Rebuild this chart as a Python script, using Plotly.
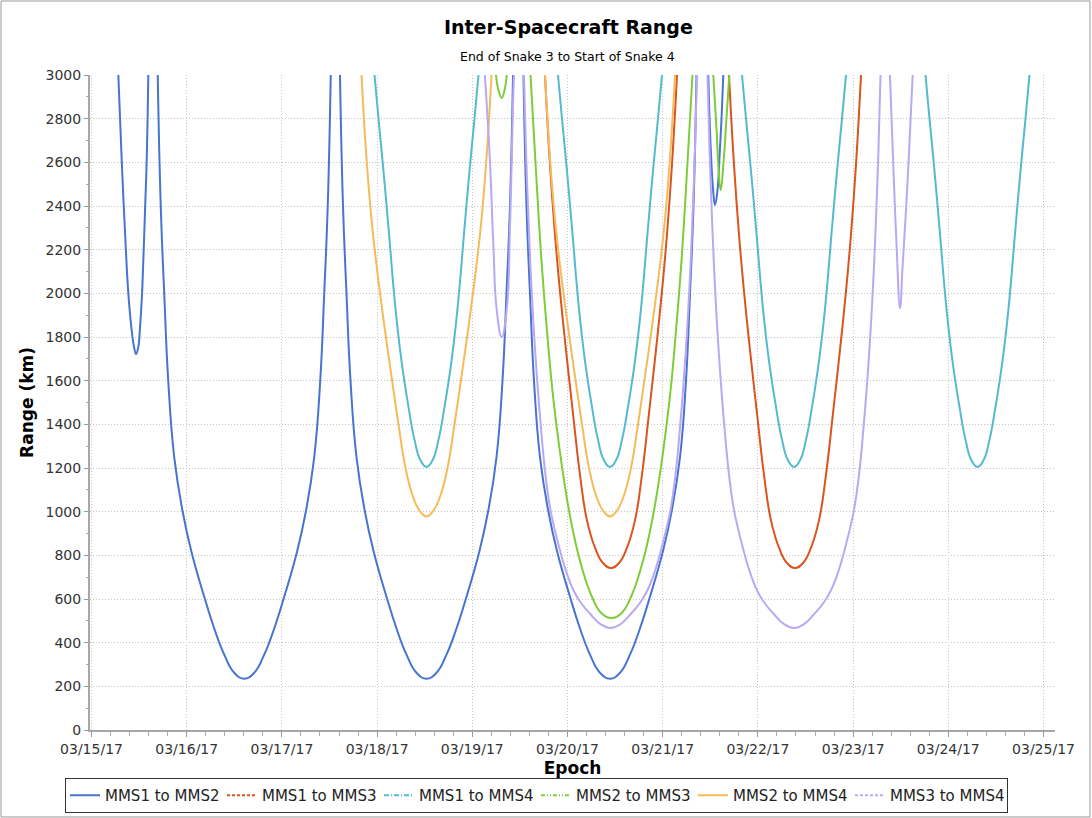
import pandas as pd
import plotly.graph_objects as go

# Epoch origin for the hour offsets below
EPOCH0 = pd.Timestamp("2017-03-15 00:00:00")

PAIRS = ["MMS1 to MMS2", "MMS1 to MMS3", "MMS1 to MMS4",
         "MMS2 to MMS3", "MMS2 to MMS4", "MMS3 to MMS4"]

# Each pair: list of segments (hours since EPOCH0, range in km); a segment ends where the range leaves the 0-3000 km window
MMS1_MMS2_HOURS = [
    [6.76, 7.61, 8.45, 9.28, 10.13, 10.71, 11.22, 11.80, 12.23, 12.66, 13.06, 13.49, 13.92, 14.32],
    [16.69, 17.45, 18.33, 19.34, 20.85, 22.87, 25.14, 28.42, 30.94, 33.46, 35.98, 38.50,
     41.02, 43.54, 46.06, 48.58, 51.86, 54.13, 56.15, 57.66, 58.67, 59.55, 60.31],
    [62.64, 63.40, 64.28, 65.29, 66.80, 68.82, 71.09, 74.37, 76.89, 79.41, 81.93, 84.45,
     86.97, 89.49, 92.01, 94.53, 97.81, 100.08, 102.10, 103.61, 104.62, 105.50, 106.26],
    [108.90, 109.66, 110.54, 111.55, 113.06, 115.08, 117.35, 120.63, 123.15, 125.67, 128.19, 130.71,
     133.23, 135.75, 138.27, 140.79, 144.07, 146.34, 148.36, 149.87, 150.88, 151.76, 152.52],
    [155.49, 156.10, 156.75, 157.18, 157.76, 158.44, 158.87, 159.28],
]
MMS1_MMS2_KM = [
    [3000, 2610, 2280, 2000, 1830, 1755, 1722, 1755, 1845, 1970, 2150, 2380, 2620, 3000],
    [3000, 2400, 2000, 1600, 1250, 1010, 820, 610, 465, 345, 262, 235,
     262, 345, 465, 610, 820, 1010, 1250, 1600, 2000, 2400, 3000],
    [3000, 2400, 2000, 1600, 1250, 1010, 820, 610, 465, 345, 262, 235,
     262, 345, 465, 610, 820, 1010, 1250, 1600, 2000, 2400, 3000],
    [3000, 2400, 2000, 1600, 1250, 1010, 820, 610, 465, 345, 262, 235,
     262, 345, 465, 610, 820, 1010, 1250, 1600, 2000, 2400, 3000],
    [3000, 2666, 2464, 2405, 2464, 2666, 2817, 3000],
]

MMS1_MMS3_HOURS = [
    [114.32, 115.58, 116.84, 118.10, 119.62, 121.38, 123.14, 124.91, 126.93, 128.94, 130.96,
     132.98, 134.99, 137.01, 138.78, 140.54, 142.30, 143.82, 145.08, 146.34, 147.60],
    [160.71, 161.97, 163.23, 164.49, 166.01, 167.77, 169.53, 171.30, 173.32, 175.33, 177.35,
     179.37, 181.38, 183.40, 185.17, 186.93, 188.69, 190.21, 191.47, 192.73, 193.99],
]
MMS1_MMS3_KM = [
    [3000, 2590, 2270, 2010, 1740, 1450, 1170, 960, 835, 765, 742,
     765, 835, 960, 1170, 1450, 1740, 2010, 2270, 2590, 3000],
    [3000, 2590, 2270, 2010, 1740, 1450, 1170, 960, 835, 765, 742,
     765, 835, 960, 1170, 1450, 1740, 2010, 2270, 2590, 3000],
]

MMS1_MMS4_HOURS = [
    [71.34, 72.35, 73.61, 74.87, 76.63, 78.15, 79.91, 81.42, 82.94, 84.45,
     85.96, 87.48, 88.99, 90.75, 92.27, 94.03, 95.29, 96.55, 97.56],
    [117.60, 118.61, 119.87, 121.13, 122.89, 124.41, 126.17, 127.68, 129.20, 130.71,
     132.22, 133.74, 135.25, 137.01, 138.53, 140.29, 141.55, 142.81, 143.82],
    [163.99, 165.00, 166.26, 167.52, 169.28, 170.80, 172.56, 174.07, 175.59, 177.10,
     178.61, 180.13, 181.64, 183.40, 184.92, 186.68, 187.94, 189.20, 190.21],
    [210.25, 211.26, 212.52, 213.78, 215.54, 217.06, 218.82, 220.33, 221.85, 223.36,
     224.87, 226.39, 227.90, 229.66, 231.18, 232.94, 234.20, 235.46, 236.47],
]
MMS1_MMS4_KM = [
    [3000, 2800, 2560, 2300, 1930, 1690, 1480, 1330, 1235, 1205,
     1235, 1330, 1480, 1690, 1930, 2300, 2560, 2800, 3000],
    [3000, 2800, 2560, 2300, 1930, 1690, 1480, 1330, 1235, 1205,
     1235, 1330, 1480, 1690, 1930, 2300, 2560, 2800, 3000],
    [3000, 2800, 2560, 2300, 1930, 1690, 1480, 1330, 1235, 1205,
     1235, 1330, 1480, 1690, 1930, 2300, 2560, 2800, 3000],
    [3000, 2800, 2560, 2300, 1930, 1690, 1480, 1330, 1235, 1205,
     1235, 1330, 1480, 1690, 1930, 2300, 2560, 2800, 3000],
]

MMS2_MMS3_HOURS = [
    [101.97, 102.60, 103.41, 104.12, 104.67],
    [110.67, 112.18, 113.44, 114.96, 116.47, 119.49, 121.51, 123.53, 126.05, 128.57, 131.09,
     133.61, 136.13, 138.65, 140.67, 142.69, 145.71, 147.22, 148.74, 150.00, 151.51],
    [156.75, 157.61, 158.01, 158.62, 159.28, 160.13, 160.79],
]
MMS2_MMS3_KM = [
    [3000, 2930, 2895, 2930, 3000],
    [3000, 2520, 2150, 1800, 1510, 1100, 900, 750, 615, 535, 513,
     535, 615, 750, 900, 1100, 1510, 1800, 2150, 2520, 3000],
    [3000, 2739, 2588, 2473, 2588, 2817, 3000],
]

MMS2_MMS4_HOURS = [
    [68.06, 69.32, 70.58, 71.84, 73.61, 75.63, 77.39, 79.16, 80.92, 82.69, 84.45,
     86.21, 87.98, 89.74, 91.51, 93.27, 95.29, 97.06, 98.32, 99.58, 100.84],
    [114.32, 115.58, 116.84, 118.10, 119.87, 121.89, 123.65, 125.42, 127.18, 128.95, 130.71,
     132.47, 134.24, 136.00, 137.77, 139.53, 141.55, 143.32, 144.58, 145.84, 147.10],
]
MMS2_MMS4_KM = [
    [3000, 2620, 2340, 2130, 1880, 1620, 1400, 1200, 1075, 1005, 978,
     1005, 1075, 1200, 1400, 1620, 1880, 2130, 2340, 2620, 3000],
    [3000, 2620, 2340, 2130, 1880, 1620, 1400, 1200, 1075, 1005, 978,
     1005, 1075, 1200, 1400, 1620, 1880, 2130, 2340, 2620, 3000],
]

MMS3_MMS4_HOURS = [
    [99.17, 100.43, 101.29, 102.15, 103.41, 104.67, 105.50, 105.93, 106.34, 106.51],
    [109.02, 109.53, 110.16, 110.91, 111.92, 113.18, 114.44, 115.70, 117.72, 119.49, 121.50, 123.27,
     125.79, 128.31, 130.83, 133.35, 135.87, 138.39, 140.16, 142.17, 143.94, 145.96, 147.22,
     148.48, 149.74, 150.75, 151.50, 152.13, 152.64],
    [155.29, 155.80, 156.43, 157.18, 158.19, 159.45, 160.71, 161.97, 163.99, 165.76, 167.77, 169.54,
     172.06, 174.58, 177.10, 179.62, 182.14, 184.66, 186.43, 188.44, 190.21, 192.23, 193.49,
     194.75, 196.01, 197.02, 197.77, 198.40, 198.91],
    [201.29, 202.13, 202.99, 203.82, 204.50, 205.51, 206.34, 207.02],
]
MMS3_MMS4_KM = [
    [3000, 2611, 2231, 1924, 1800, 1924, 2304, 2611, 2918, 3000],
    [3000, 2660, 2343, 2030, 1715, 1411, 1170, 1008, 850, 735, 640, 585, 530, 485, 467,
     485, 530, 585, 640, 735, 850, 1008, 1170, 1411, 1715, 2030, 2343, 2660, 3000],
    [3000, 2660, 2343, 2030, 1715, 1411, 1170, 1008, 850, 735, 640, 585, 530, 485, 467,
     485, 530, 585, 640, 735, 850, 1008, 1170, 1411, 1715, 2030, 2343, 2660, 3000],
    [3000, 2588, 2208, 1933, 2130, 2437, 2739, 3000],
]

DATA = {
    "MMS1 to MMS2": (MMS1_MMS2_HOURS, MMS1_MMS2_KM),
    "MMS1 to MMS3": (MMS1_MMS3_HOURS, MMS1_MMS3_KM),
    "MMS1 to MMS4": (MMS1_MMS4_HOURS, MMS1_MMS4_KM),
    "MMS2 to MMS3": (MMS2_MMS3_HOURS, MMS2_MMS3_KM),
    "MMS2 to MMS4": (MMS2_MMS4_HOURS, MMS2_MMS4_KM),
    "MMS3 to MMS4": (MMS3_MMS4_HOURS, MMS3_MMS4_KM),
}

COLORS = {
    "MMS1 to MMS2": "#4674D0",
    "MMS1 to MMS3": "#D9541E",
    "MMS1 to MMS4": "#55BBCC",
    "MMS2 to MMS3": "#7FCC3A",
    "MMS2 to MMS4": "#F5BB5A",
    "MMS3 to MMS4": "#BBA8F2",
}
DASHES = {
    "MMS1 to MMS2": "solid",
    "MMS1 to MMS3": "3px,2px",
    "MMS1 to MMS4": "5px,2px,1px,2px",
    "MMS2 to MMS3": "4px,2px,1px,2px,1px,2px",
    "MMS2 to MMS4": "solid",
    "MMS3 to MMS4": "3px,2px",
}


def to_xy(seg_hours, seg_km):
    xs, ys = [], []
    for hs, ks in zip(seg_hours, seg_km):
        stamps = EPOCH0 + pd.to_timedelta(hs, unit="h")
        xs += [t.strftime("%Y-%m-%d %H:%M:%S") for t in stamps] + [None]
        ys += list(ks) + [None]
    return xs, ys


fig = go.Figure()

# the sampled range curves
for name in PAIRS:
    xs, ys = to_xy(*DATA[name])
    fig.add_trace(go.Scatter(
        x=xs, y=ys, mode="lines", name=name, legendgroup=name, showlegend=False,
        line=dict(color=COLORS[name], width=2, shape="spline", smoothing=1.3),
        connectgaps=False, hoverinfo="x+y+name",
    ))

# legend keys carry the series stroke patterns
for name in PAIRS:
    fig.add_trace(go.Scatter(
        x=[None], y=[None], mode="lines", name=name, legendgroup=name,
        line=dict(color=COLORS[name], width=2, dash=DASHES[name]),
    ))

AXIS_FONT = dict(family="DejaVu Sans", size=14, color="#333333")
AXIS_TITLE_FONT = dict(family="DejaVu Sans", size=17, color="#000000")

fig.update_layout(
    width=1092, height=818,
    margin=dict(l=90, r=37, t=75, b=88),
    paper_bgcolor="white", plot_bgcolor="white",
    title=dict(text="<b>Inter-Spacecraft Range</b>", x=0.5205, xanchor="center",
               xref="container", y=0.967, yanchor="middle", yref="container",
               font=dict(family="DejaVu Sans", size=19, color="#000000")),
    annotations=[dict(text="End of Snake 3 to Start of Snake 4", xref="paper", yref="paper",
                      x=0.4953, y=1.0275, xanchor="center", yanchor="middle", showarrow=False,
                      font=dict(family="DejaVu Sans", size=12.5, color="#000000"))],
    xaxis=dict(
        type="date", range=["2017-03-14 23:37:00", "2017-03-25 02:54:00"],
        tick0="2017-03-15", dtick=86400000, tickformat="%m/%d/%y",
        ticks="outside", ticklen=5, tickwidth=1, tickcolor="#999999",
        showgrid=True, gridcolor="#c4c4c4", gridwidth=1, griddash="1px,2px",
        showline=True, linecolor="#a6a6a6", linewidth=2, zeroline=False,
        minor=dict(tick0="2017-03-15", dtick=17280000, ticks="outside", ticklen=4,
                   tickcolor="#aaaaaa", showgrid=False),
        tickfont=AXIS_FONT, automargin=False,
        title=dict(text="<b>Epoch</b>", font=AXIS_TITLE_FONT, standoff=6),
    ),
    yaxis=dict(
        range=[0, 3000], tick0=0, dtick=200,
        ticks="outside", ticklen=4, tickwidth=1, tickcolor="#999999",
        showgrid=True, gridcolor="#c4c4c4", gridwidth=1, griddash="1px,2px",
        showline=True, linecolor="#a6a6a6", linewidth=2, zeroline=False,
        minor=dict(dtick=100, ticks="outside", ticklen=2, tickcolor="#aaaaaa", showgrid=False),
        tickfont=AXIS_FONT, automargin=False,
        title=dict(text="<b>Range (km)</b>", font=AXIS_TITLE_FONT, standoff=8),
    ),
    legend=dict(
        orientation="h", x=0.0595, xanchor="left", xref="container",
        y=0.0489, yanchor="top", yref="container",
        bordercolor="#333333", borderwidth=1, bgcolor="white",
        font=dict(family="DejaVu Sans", size=15, color="#222222"),
        entrywidth=112, itemwidth=30,
    ),
    shapes=[dict(type="rect", xref="paper", yref="paper",
                 x0=-0.0922, x1=1.0363, y0=-0.1328, y1=1.113,
                 line=dict(color="#9a9a9a", width=1), fillcolor="rgba(0,0,0,0)", layer="below")],
)

fig.write_html("out.html")
